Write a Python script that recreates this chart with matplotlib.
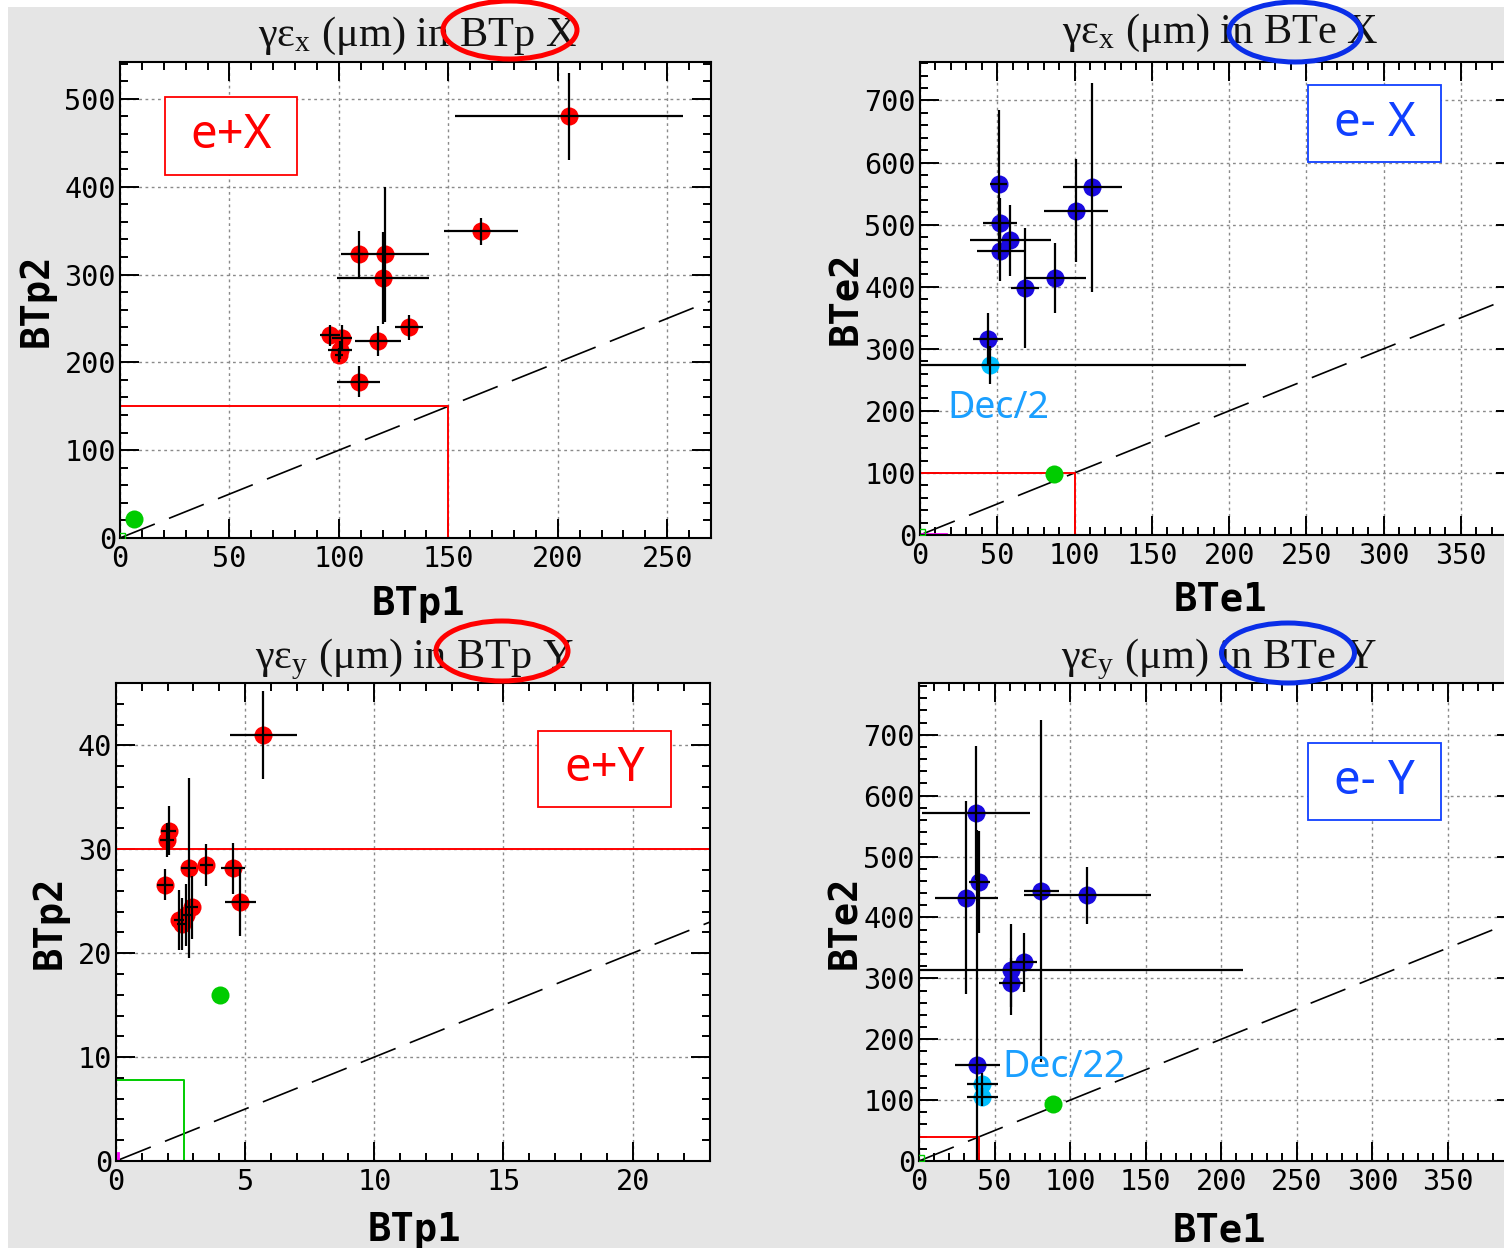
#!/usr/bin/env python3
"""Emittance comparison BTp/BTe, four ROOT-style scatter panels."""

import matplotlib
matplotlib.use("Agg")
import matplotlib.pyplot as plt
from matplotlib.patches import Ellipse, Rectangle
from matplotlib.ticker import MultipleLocator

W, H = 1504, 1248

# ---- data ----
# e+ X  (BTp1 vs BTp2)
px_x = [205, 165, 109, 121, 120, 132, 118, 96, 101.5, 100.5, 100, 109]
px_xerr = [52, 17, 2, 20, 21, 6.5, 10.5, 4.5, 4.5, 5.5, 2, 10]
px_y = [480, 349, 323, 323, 296, 240, 224, 231, 228, 214, 208, 178]
px_yerr = [50, 15, 26, 77, 52, 14, 17, 12, 15, 10, 8, 18]
px_ref = [6.5, 22]          # green point
px_cut = 150

# e- X  (BTe1 vs BTe2)
ex_x = [50.8, 52, 58.5, 52, 67.8, 87.5, 101, 111.5, 44]
ex_xerr = [5.5, 11, 26, 15, 9, 20, 20.5, 19, 10]
ex_y = [565, 503, 475, 457, 398, 414, 522, 560, 315]
ex_yerr = [120, 40, 57, 48, 97, 57, 83, 168, 43]
ex_dec_x = [45]
ex_dec_xerr = [166]
ex_dec_y = [274]
ex_dec_yerr = [30]
ex_ref = [86.5, 98]
ex_cut = 100

# e+ Y  (BTp1 vs BTp2)
py_x = [5.71, 2.04, 1.96, 1.89, 2.81, 3.5, 4.53, 4.81, 2.96, 2.71, 2.43, 2.55]
py_xerr = [1.3, 0.3, 0.27, 0.3, 0.3, 0.25, 0.45, 0.6, 0.2, 0.2, 0.2, 0.2]
py_y = [41.0, 31.8, 30.9, 26.6, 28.2, 28.5, 28.15, 24.9, 24.4, 23.7, 23.2, 22.8]
py_yerr = [4.2, 2.4, 1.6, 1.5, 8.7, 2.0, 2.5, 3.2, 3.0, 3.0, 2.9, 2.5]
py_ref = [4.04, 16.0]
py_hcut = 30
py_box = [2.62, 7.8]

# e- Y  (BTe1 vs BTe2)
ey_x = [37.7, 31.4, 39.9, 38.6, 81, 111.4, 61.2, 69.4, 61.2]
ey_xerr = [36, 20.7, 7, 15, 11.5, 42, 153, 8.7, 8.3]
ey_y = [571.6, 432.6, 457.7, 158, 443, 436.6, 314, 326, 293]
ey_yerr = [110, 158, 84, 385, 281, 47, 75, 49, 40]
ey_dec_x = [42, 42]
ey_dec_xerr = [10.5, 10.5]
ey_dec_y = [126, 105]
ey_dec_yerr = [18, 15]
ey_ref = [88.5, 94]
ey_cut = 40

RED = "#ff0000"
BLUE = "#1a0ae0"
LBLUE = "#00bfff"
GREEN = "#00cc00"
BOXBLUE = "#1040ff"
DECBLUE = "#1a9fff"
GREY_BG = "#e5e5e5"
MS = 13

plt.rcParams["mathtext.fontset"] = "custom"
plt.rcParams["mathtext.rm"] = "Liberation Serif"
plt.rcParams["mathtext.it"] = "Liberation Serif"
plt.rcParams["lines.scale_dashes"] = False

fig = plt.figure(figsize=(W / 100, H / 100), dpi=100)
fig.patch.set_facecolor("white")
fig.patches.append(Rectangle((8 / W, 0), 1, 1 - 7 / H, transform=fig.transFigure,
                             facecolor=GREY_BG, edgecolor="none", zorder=-10))


def rect(left, right, top, bottom):
    return [left / W, 1 - bottom / H, (right - left) / W, (bottom - top) / H]


def style_axes(ax, xlim, ylim, xmaj, xmin, ymaj, ymin):
    ax.set_xlim(*xlim)
    ax.set_ylim(*ylim)
    ax.xaxis.set_major_locator(MultipleLocator(xmaj))
    ax.xaxis.set_minor_locator(MultipleLocator(xmin))
    ax.yaxis.set_major_locator(MultipleLocator(ymaj))
    ax.yaxis.set_minor_locator(MultipleLocator(ymin))
    ax.tick_params(which="both", direction="in", top=True, right=True, width=1.4)
    ax.tick_params(which="major", length=14)
    ax.tick_params(which="minor", length=6)
    ax.tick_params(axis="x", pad=5)
    ax.tick_params(axis="y", pad=3)
    for lab in ax.get_xticklabels() + ax.get_yticklabels():
        lab.set_family("DejaVu Sans Mono")
        lab.set_fontsize(20.5)
    for sp in ax.spines.values():
        sp.set_linewidth(1.5)
    ax.grid(True, which="major", color="#8a8a8a", linewidth=1.0,
            linestyle=(0, (2, 2.5)), zorder=0)
    ax.set_axisbelow(True)
    top = max(xlim[1], ylim[1])
    ax.plot([0, top], [0, top], color="black", linewidth=1.2,
            dashes=(27, 11), zorder=2)


def draw_points(ax, x, xerr, y, yerr, color):
    ax.plot(x, y, "o", color=color, markersize=MS, markeredgewidth=0, zorder=3)
    ax.errorbar(x, y, xerr=xerr, yerr=yerr, fmt="none", ecolor="black",
                elinewidth=1.6, capsize=0, zorder=4)


def label_box(ax, x0, x1, y0, y1, text, color):
    ax.add_patch(Rectangle((x0, y0), x1 - x0, y1 - y0, transform=ax.transAxes,
                           facecolor="white", edgecolor=color, linewidth=1.3, zorder=6))
    ax.text((x0 + x1) / 2, (y0 + y1) / 2, text, transform=ax.transAxes,
            ha="center", va="center", color=color, fontsize=34,
            family="Noto Sans", zorder=7)


def labels(cx, title_base, title, xl, xl_base, yl, yl_x, yl_y):
    fig.text(cx / W, 1 - title_base / H, title, ha="center", va="baseline",
             fontsize=30.5, family="Liberation Serif", color="#111111")
    fig.text(cx / W, 1 - xl_base / H, xl, ha="center", va="baseline",
             fontsize=28, family="DejaVu Sans Mono", weight="bold")
    fig.text(yl_x / W, 1 - yl_y / H, yl, ha="center", va="center", rotation=90,
             fontsize=28, family="DejaVu Sans Mono", weight="bold")


def ring(cx, cy, w, h, color):
    fig.patches.append(Ellipse((cx / W, 1 - cy / H), w / W, h / H,
                               transform=fig.transFigure, fill=False,
                               edgecolor=color, linewidth=3.6, zorder=10))


# ---- top left: e+ X ----
ax1 = fig.add_axes(rect(120, 711, 62, 538))
style_axes(ax1, (0, 270), (0, 542), 50, 10, 100, 20)
ax1.plot([0, px_cut, px_cut], [px_cut, px_cut, 0], color=RED, linewidth=1.4, zorder=2)
ax1.plot([px_ref[0]], [px_ref[1]], "o", color=GREEN, markersize=MS, markeredgewidth=0, zorder=3)
ax1.plot([0.8], [2], "s", markerfacecolor="none", markeredgecolor=GREEN, markersize=5, zorder=3)
draw_points(ax1, px_x, px_xerr, px_y, px_yerr, RED)
label_box(ax1, 0.076, 0.2995, 0.7626, 0.9265, "e+X", RED)
labels(418, 46, "γε$_{\\mathrm{x}}$ (μm) in BTp X", "BTp1", 615, "BTp2", 37, 300)
ring(510, 30, 134, 58, RED)

# ---- top right: e- X ----
ax2 = fig.add_axes(rect(920, 1515, 62, 535))
style_axes(ax2, (0, 385), (0, 762), 50, 10, 100, 20)
ax2.plot([0, ex_cut, ex_cut], [ex_cut, ex_cut, 0], color=RED, linewidth=1.4, zorder=2)
ax2.plot([0, 17], [1.5, 1.5], color="magenta", linewidth=2, zorder=2)
ax2.plot([1.5], [5], "s", markerfacecolor="none", markeredgecolor=GREEN, markersize=5, zorder=3)
ax2.plot([ex_ref[0]], [ex_ref[1]], "o", color=GREEN, markersize=MS, markeredgewidth=0, zorder=3)
draw_points(ax2, ex_dec_x, ex_dec_xerr, ex_dec_y, ex_dec_yerr, LBLUE)
draw_points(ax2, ex_x, ex_xerr, ex_y, ex_yerr, BLUE)
label_box(ax2, 0.652, 0.8756, 0.7886, 0.9514, "e- X", BOXBLUE)
ax2.text(18, 205, "Dec/2", color=DECBLUE, fontsize=27, family="Noto Sans",
         ha="left", va="center", zorder=5)
labels(1220, 43, "γε$_{\\mathrm{x}}$ (μm) in BTe X", "BTe1", 611, "BTe2", 846, 298)
ring(1295, 32, 132, 60, "#0a2ee8")

# ---- bottom left: e+ Y ----
ax3 = fig.add_axes(rect(116, 710, 683, 1161))
style_axes(ax3, (0, 23), (0, 46), 5, 1, 10, 2)
ax3.axhline(py_hcut, color=RED, linewidth=1.4, zorder=2)
ax3.plot([0, py_box[0], py_box[0]], [py_box[1], py_box[1], 0], color=GREEN,
         linewidth=1.4, zorder=2)
ax3.plot([0.08, 0.08], [0, 0.8], color="magenta", linewidth=2, zorder=2)
ax3.plot([py_ref[0]], [py_ref[1]], "o", color=GREEN, markersize=MS, markeredgewidth=0, zorder=3)
draw_points(ax3, py_x, py_xerr, py_y, py_yerr, RED)
label_box(ax3, 0.7104, 0.9343, 0.7408, 0.9001, "e+Y", RED)
labels(414, 668, "γε$_{\\mathrm{y}}$ (μm) in BTp Y", "BTp1", 1241, "BTp2", 50, 922)
ring(502, 651, 132, 60, RED)

# ---- bottom right: e- Y ----
ax4 = fig.add_axes(rect(919, 1516, 683, 1161))
style_axes(ax4, (0, 395), (0, 785), 50, 10, 100, 20)
ax4.plot([0, ey_cut, ey_cut], [ey_cut, ey_cut, 0], color=RED, linewidth=1.4, zorder=2)
ax4.plot([1.5], [5], "s", markerfacecolor="none", markeredgecolor=GREEN, markersize=5, zorder=3)
ax4.plot([ey_ref[0]], [ey_ref[1]], "o", color=GREEN, markersize=MS, markeredgewidth=0, zorder=3)
draw_points(ax4, ey_dec_x, ey_dec_xerr, ey_dec_y, ey_dec_yerr, LBLUE)
draw_points(ax4, ey_x, ey_xerr, ey_y, ey_yerr, BLUE)
label_box(ax4, 0.6516, 0.8744, 0.7136, 0.875, "e- Y", BOXBLUE)
ax4.text(55, 154, "Dec/22", color=DECBLUE, fontsize=27, family="Noto Sans",
         ha="left", va="center", zorder=5)
labels(1219, 668, "γε$_{\\mathrm{y}}$ (μm) in BTe Y", "BTe1", 1241, "BTe2", 845, 922)
ring(1288, 653, 133, 60, "#0a2ee8")

fig.savefig("out.png", dpi=100)
print("Wrote out.png")
